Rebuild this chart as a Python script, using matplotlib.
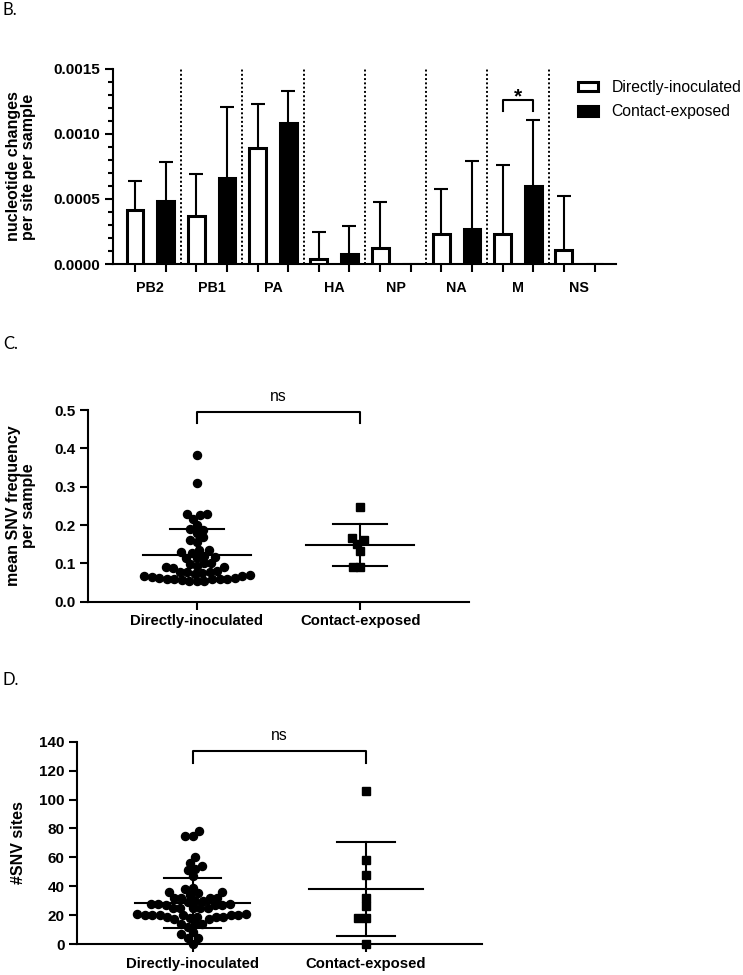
import numpy as np
import matplotlib
matplotlib.use("Agg")
import matplotlib.pyplot as plt
from matplotlib.ticker import FormatStrFormatter, MultipleLocator

plt.rcParams['font.family'] = ['Liberation Sans', 'DejaVu Sans']

# ---------------- data ----------------
segments = ['PB2', 'PB1', 'PA', 'HA', 'NP', 'NA', 'M', 'NS']
groups = ['Directly-inoculated', 'Contact-exposed']

di_rate = [0.000415, 0.000372, 0.00089, 0.00004, 0.00012, 0.000233, 0.000233, 0.000105]
di_rate_sd = [0.000223, 0.000323, 0.00034, 0.000206, 0.000357, 0.000341, 0.000529, 0.000418]
ce_rate = [0.000485, 0.000664, 0.001087, 0.000077, 0.0, 0.000267, 0.000602, 0.0]
ce_rate_sd = [0.000297, 0.000546, 0.000243, 0.000218, 0.0, 0.000525, 0.000508, 0.0]

snv_freq_di = [0.383, 0.31, 0.23, 0.228, 0.226, 0.217, 0.20, 0.19, 0.188, 0.18,
               0.168, 0.16, 0.155, 0.135, 0.135, 0.13, 0.128, 0.12, 0.117, 0.115,
               0.113, 0.10, 0.10, 0.098, 0.092, 0.09, 0.09, 0.088, 0.08, 0.078,
               0.078, 0.077, 0.075, 0.072, 0.07, 0.068, 0.066, 0.065, 0.063, 0.062,
               0.06, 0.06, 0.06, 0.058, 0.058, 0.057, 0.055, 0.055, 0.053]
snv_freq_ce = [0.248, 0.165, 0.16, 0.15, 0.132, 0.09, 0.09]
snv_freq_mean = [0.122, 0.148]
snv_freq_sd = [0.068, 0.054]

snv_sites_di = [78, 75, 75, 60, 56, 54, 52, 51, 47, 39, 38, 36, 36, 35, 34,
                32, 32, 32, 32, 30, 30, 29, 28, 28, 28, 27, 27, 27,
                25, 25, 25, 25, 25, 21, 21, 20, 20, 20, 20, 20, 20,
                19, 19, 19, 19, 18, 17, 17, 14, 14, 14, 12, 8, 7, 4, 4, 0]
snv_sites_ce = [106, 58, 48, 32, 26, 18, 18, 0]
snv_sites_mean = [28.5, 38.0]
snv_sites_sd = [17.5, 32.8]

W, H = 743, 975
fig = plt.figure(figsize=(W / 100, H / 100), dpi=100)
fig.patch.set_facecolor('white')


def ax_px(left, top, right, bottom):
    return fig.add_axes([left / W, 1 - bottom / H, (right - left) / W, (bottom - top) / H])


def style_axes(ax):
    for s in ['top', 'right']:
        ax.spines[s].set_visible(False)
    for s in ['left', 'bottom']:
        ax.spines[s].set_linewidth(1.5)
    ax.tick_params(axis='both', which='major', length=5.5, width=1.5, direction='out')
    ax.tick_params(axis='y', labelsize=11)
    for lab in ax.get_yticklabels():
        lab.set_fontweight('bold')


def swarm_x(ax, xc, vals, d):
    vals = np.asarray(vals, float)
    pts = ax.transData.transform(np.column_stack([np.full(vals.size, xc), vals]))
    px0 = pts[0, 0]
    py = pts[:, 1]
    order = np.argsort(py, kind='stable')
    placed = []
    out = np.zeros(vals.size)
    for i in order:
        y = py[i]
        cands = [0.0]
        for xj, yj in placed:
            dy = abs(y - yj)
            if dy < d:
                dx = np.sqrt(d * d - dy * dy)
                cands += [xj - dx, xj + dx]
        cands = sorted(cands, key=lambda c: (abs(c), c))
        chosen = 0.0
        for c in cands:
            if all((c - xj) ** 2 + (y - yj) ** 2 >= d * d - 1e-6 for xj, yj in placed):
                chosen = c
                break
        placed.append((chosen, y))
        out[i] = chosen
    xs = ax.transData.inverted().transform(np.column_stack([px0 + out, py]))[:, 0]
    return xs


# ---------------- panel B ----------------
axB = ax_px(113, 69, 616, 264)
style_axes(axB)
xw = np.arange(len(segments)) * 2.0
xb = xw + 1
bw = axB.bar(xw, di_rate, width=0.55, color='white', edgecolor='black', linewidth=2.2, zorder=3,
             label=groups[0])
bb = axB.bar(xb, ce_rate, width=0.55, color='black', edgecolor='black', linewidth=2.2, zorder=3,
             label=groups[1])
for xs, vals, sds in [(xw, di_rate, di_rate_sd), (xb, ce_rate, ce_rate_sd)]:
    vals = np.asarray(vals)
    sds = np.asarray(sds)
    m = sds > 0
    eb = axB.errorbar(xs[m], vals[m], yerr=[np.zeros(m.sum()), sds[m]], fmt='none',
                      ecolor='black', elinewidth=1.5, capsize=5, capthick=1.5, zorder=2)
    eb[1][0].set_visible(False)

axB.vlines(xw[:-1] + 1.5, 0, 0.0015, colors='black', linestyles=(0, (1, 1.2)), linewidth=1.4,
           zorder=1)
axB.set_xlim(-0.72, 15.7)
axB.set_ylim(0, 0.0015)
axB.set_yticks([0, 0.0005, 0.0010, 0.0015])
axB.yaxis.set_major_formatter(FormatStrFormatter('%.4f'))
axB.yaxis.set_minor_locator(MultipleLocator(0.0001))
axB.tick_params(axis='y', which='minor', length=3.5, width=1.5)
axB.set_xticks(np.concatenate([xw, xb]))
axB.set_xticklabels([''] * 16)
axB.set_xticks(xw + 0.5, minor=True)
axB.set_xticklabels(segments, minor=True, fontsize=10.3, fontweight='bold')
axB.tick_params(axis='x', which='minor', length=0, pad=12)
for lab in axB.get_yticklabels():
    lab.set_fontweight('bold')
axB.set_ylabel('nucleotide changes\nper site per sample', fontsize=11.5, fontweight='bold',
               linespacing=1.0)
axB.yaxis.set_label_coords(-0.153, 0.5)
# significance bracket on M
axB.plot([12, 12, 13, 13], [0.00118, 0.00126, 0.00126, 0.00118], color='black', lw=1.5,
         clip_on=False, zorder=4)
axB.text(12.5, 0.00124, '*', ha='center', va='baseline', fontsize=15, fontweight='bold')
axB.legend(handles=[bw, bb], labels=groups, loc='center left',
           bbox_to_anchor=(578 / W, 1 - 99.7 / H), bbox_transform=fig.transFigure,
           frameon=False, fontsize=11.3, handlelength=1.3, handleheight=0.55,
           handletextpad=0.85, labelspacing=0.6, borderaxespad=0, borderpad=0)


# ---------------- scatter panels ----------------
def scatter_panel(ax, di, ce, means, sds, ylim, yticks, fmt, ylabel, label_x, br, ns_y, pad):
    style_axes(ax)
    ax.set_xlim(-2 / 3, 5 / 3)
    ax.set_ylim(*ylim)
    ax.set_yticks(yticks)
    ax.yaxis.set_major_formatter(FormatStrFormatter(fmt))
    for lab in ax.get_yticklabels():
        lab.set_fontweight('bold')
    ax.set_xticks([0, 1])
    ax.set_xticklabels(groups, fontsize=10.7, fontweight='bold')
    ax.tick_params(axis='x', pad=pad)
    for i in range(2):
        mu, sd = means[i], sds[i]
        ax.plot([i - 0.33, i + 0.33], [mu, mu], color='black', lw=1.5, zorder=4)
        ax.plot([i - 0.165, i + 0.165], [mu + sd, mu + sd], color='black', lw=1.5, zorder=4)
        ax.plot([i - 0.165, i + 0.165], [mu - sd, mu - sd], color='black', lw=1.5, zorder=4)
        ax.plot([i, i], [mu - sd, mu + sd], color='black', lw=1.5, zorder=4)
    x0 = swarm_x(ax, 0, di, 7.6)
    ax.plot(x0, di, 'o', color='black', markersize=5.8, linestyle='none', zorder=3,
            clip_on=False)
    x1 = swarm_x(ax, 1, ce, 7.6)
    ax.plot(x1, ce, 's', color='black', markersize=5.4, linestyle='none', zorder=3,
            clip_on=False)
    ax.plot([0, 0, 1, 1], [br[0], br[1], br[1], br[0]], color='black', lw=1.5, clip_on=False)
    ax.text(0.5, ns_y, 'ns', ha='center', va='center', fontsize=11.3)
    ax.set_ylabel(ylabel, fontsize=11.5, fontweight='bold', linespacing=1.0)
    ax.yaxis.set_label_coords(label_x, 0.5)


axC = ax_px(88, 410, 469, 601.7)
scatter_panel(axC, snv_freq_di, snv_freq_ce, snv_freq_mean, snv_freq_sd, (0, 0.5),
              [0, 0.1, 0.2, 0.3, 0.4, 0.5], '%.1f', 'mean SNV frequency\nper sample',
              -0.136, (0.467, 0.496), 0.534, 3.5)

axD = ax_px(77, 741.7, 481.6, 944)
scatter_panel(axD, snv_sites_di, snv_sites_ce, snv_sites_mean, snv_sites_sd, (0, 140),
              [0, 20, 40, 60, 80, 100, 120, 140], '%d', '#SNV sites',
              -0.126, (125, 133.8), 144.6, 4.0)

# panel letters
for letter, y in [('B.', 15), ('C.', 349), ('D.', 685)]:
    fig.text(3 / W, 1 - y / H, letter, fontsize=12, family='Lato', va='baseline', ha='left')

fig.savefig('out.png', dpi=100, facecolor='white')
